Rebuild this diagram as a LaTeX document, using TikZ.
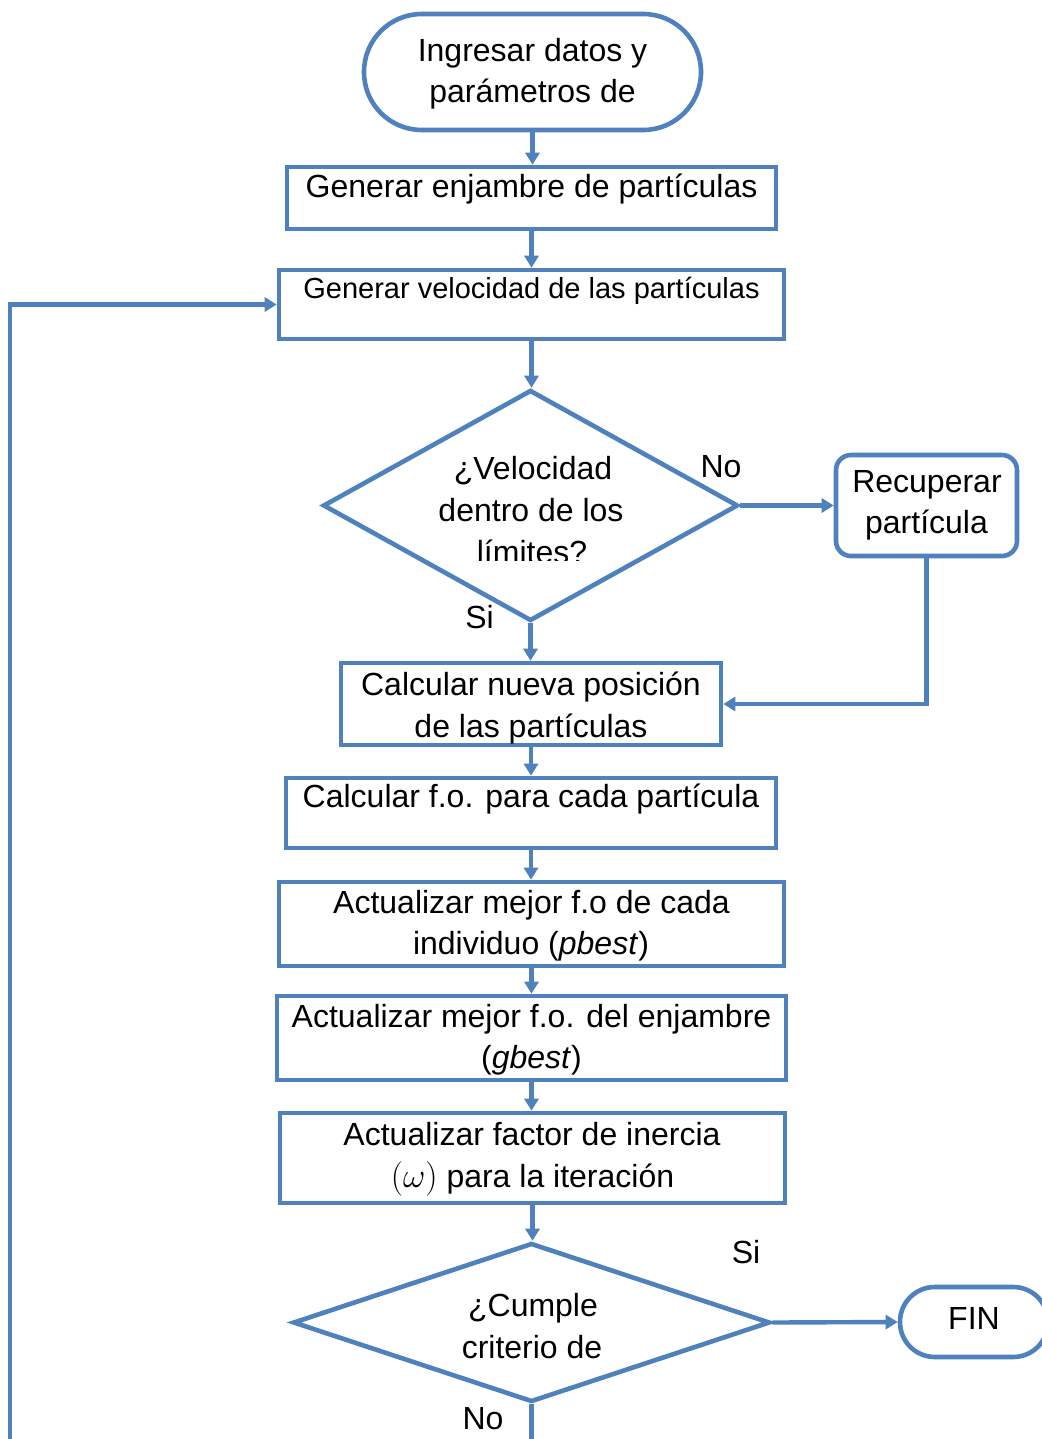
\documentclass[tikz,border=0pt]{standalone}
\usepackage{fontspec}
\setmainfont{Liberation Sans}
\usetikzlibrary{shapes.geometric,arrows.meta,fit}
\definecolor{flowblue}{HTML}{4F81BD}
\tikzset{
  proc/.style={draw=flowblue, line width=2.3pt, inner sep=0pt, fill=white},
  term/.style={proc, rounded corners=#1},
  decis/.style={draw=flowblue, line width=2.3pt, diamond, inner sep=0pt},
  txt/.style={inner sep=0pt, anchor=base, font=\fontsize{16}{19}\selectfont, text=black},
  smalltxt/.style={font=\fontsize{14.5}{17}\selectfont},
  flow/.style={draw=flowblue, line width=2.2pt, -{Triangle[length=6pt,width=7pt]}},
}
\begin{document}
\begin{tikzpicture}[x=0.5pt,y=-0.5pt]
\useasboundingbox (0,0) rectangle (1042,1439);
\clip (0,0) rectangle (1042,1439);
\fill[white] (0,0) rectangle (1042,1439);

% shapes of the flow chart
\node[term=28.9pt, fit={(364,14) (701,130)}] (start) {};
\node[proc, fit={(287,167) (776,229)}] (gen) {};
\node[proc, fit={(279,270) (784,339)}] (vel) {};
\node[decis, minimum width=207.5pt, minimum height=115.5pt] (chk) at (530.5,505.5) {};
\node[term=7.5pt, fit={(836,455) (1017,556)}] (recup) {};
\node[proc, fit={(341,663) (721,745)}] (pos) {};
\node[proc, fit={(286,778) (776,848)}] (fo) {};
\node[proc, fit={(279,882) (784,966)}] (pbest) {};
\node[proc, fit={(277,996) (786,1080)}] (gbest) {};
\node[proc, fit={(280,1113) (785,1203)}] (inerc) {};
\node[decis, minimum width=238.5pt, minimum height=79.5pt] (stop) at (531.5,1322.5) {};
\node[term=17.4pt, fit={(900,1287) (1048,1357)}] (fin) {};

% texts
\node[txt] (t-start1) at (532.5,62) {Ingresar datos y};
\node[txt] (t-start2) at (532.5,103) {parámetros de};
\node[txt] (t-gen) at (531.5,198) {Generar enjambre de partículas};
\node[txt,smalltxt] (t-vel) at (531.5,298) {Generar velocidad de las partículas};
\node[txt] (t-chk1) at (533,479) {¿Velocidad};
\node[txt] (t-chk2) at (531,521) {dentro de los};
\begin{scope}
  \clip (330,400) rectangle (730,560);
  \node[txt] (t-chk3) at (532,563) {límites?};
\end{scope}
\node[txt] (t-no1) at (721,477) {No};
\node[txt] (t-si1) at (479.5,628) {Si};
\node[txt] (t-rec1) at (927,492) {Recuperar};
\node[txt] (t-rec2) at (926.5,533) {partícula};
\node[txt] (t-pos1) at (531,695) {Calcular nueva posición};
\node[txt] (t-pos2) at (531,737) {de las partículas};
\node[txt] (t-fo) at (531,807) {Calcular f.o. para cada partícula};
\node[txt] (t-pb1) at (531.5,913) {Actualizar mejor f.o de cada};
\node[txt] (t-pb2) at (531,954) {individuo (\textit{pbest})};
\node[txt] (t-gb1) at (531.5,1027) {Actualizar mejor f.o. del enjambre};
\node[txt] (t-gb2) at (531.5,1068) {(\textit{gbest})};
\node[txt] (t-in1) at (532,1145) {Actualizar factor de inercia};
\node[txt] (t-in2) at (532.5,1187) {$(\omega)$ para la iteración};
\node[txt] (t-st1) at (533,1316) {¿Cumple};
\node[txt] (t-st2) at (532,1358) {criterio de};
\node[txt] (t-si2) at (746,1263) {Si};
\node[txt] (t-no2) at (483,1429) {No};
\node[txt] (t-fin) at (974,1329) {FIN};

% connectors
\draw[flow] (start.south) -- (start.south |- gen.north);
\draw[flow] (gen.south) -- (gen.south |- vel.north);
\draw[flow] (vel.south) -- (vel.south |- chk.north);
\draw[flow] (chk.east) -- (recup.west);
\draw[flow] (recup.south) |- (pos.east);
\draw[flow] (chk.south) -- (chk.south |- pos.north);
\draw[flow] (pos.south) -- (pos.south |- fo.north);
\draw[flow] (fo.south) -- (fo.south |- pbest.north);
\draw[flow] (pbest.south) -- (pbest.south |- gbest.north);
\draw[flow] (gbest.south) -- (gbest.south |- inerc.north);
\draw[flow] (inerc.south) -- (inerc.south |- stop.north);
\draw[flow] (stop.east) -- (fin.west);
\coordinate (loopturn) at (10,1470);
\draw[flow] (stop.south) |- (loopturn) |- (vel.west);
\end{tikzpicture}
\end{document}
